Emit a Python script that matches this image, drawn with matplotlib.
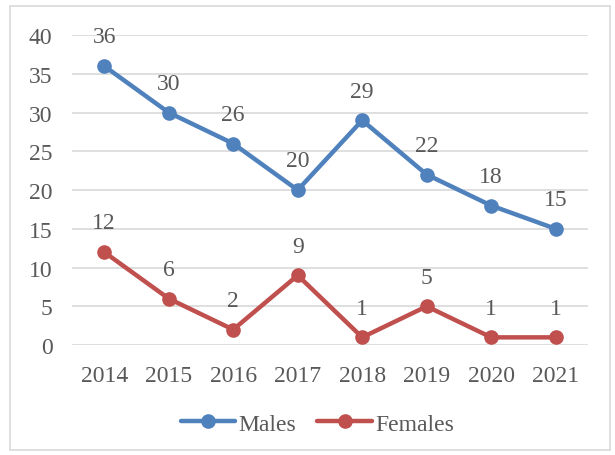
import matplotlib.pyplot as plt
from matplotlib.patches import Rectangle

years = ['2014', '2015', '2016', '2017', '2018', '2019', '2020', '2021']
males = [36, 30, 26, 20, 29, 22, 18, 15]
females = [12, 6, 2, 9, 1, 5, 1, 1]

plt.rcParams['font.family'] = ['Liberation Serif', 'DejaVu Serif']
txt = '#595959'

fig = plt.figure(figsize=(6.15, 4.56), dpi=100)
ax = fig.add_axes([0.117, 0.241, 0.839, 0.68])

x = range(len(years))
series = [(males, '#4F81BD', 'Males'), (females, '#C0504D', 'Females')]
for vals, col, name in series:
    ax.plot(x, vals, color=col, lw=3.2, marker='o', ms=9.5, label=name,
            solid_capstyle='round')
    for xi, v in zip(x, vals):
        ax.annotate(str(v), (xi, v), xytext=(0, 21), textcoords='offset points',
                    ha='center', va='center', fontsize=17, color=txt)

ax.set_xlim(-0.5, 7.5)
ax.set_ylim(0, 40)
ax.set_yticks(range(0, 41, 5))
ax.set_xticks(list(x))
ax.set_xticklabels(years)
ax.grid(axis='y', color='#D9D9D9', lw=1.2)
ax.set_axisbelow(True)
for s in ax.spines.values():
    s.set_visible(False)
ax.tick_params(length=0, labelsize=17, labelcolor=txt, pad=14)
ax.tick_params(axis='y', pad=14)

fig.legend(loc='center', bbox_to_anchor=(0.516, 0.068), ncol=2, frameon=False,
           fontsize=17, labelcolor=txt, handlelength=2.3, handletextpad=0.15,
           columnspacing=0.9)

fig.patches.append(Rectangle((0.017, 0.01), 0.975, 0.975, transform=fig.transFigure,
                             fill=False, edgecolor='#D9D9D9', lw=1.2))

fig.savefig('out.png', dpi=100)
